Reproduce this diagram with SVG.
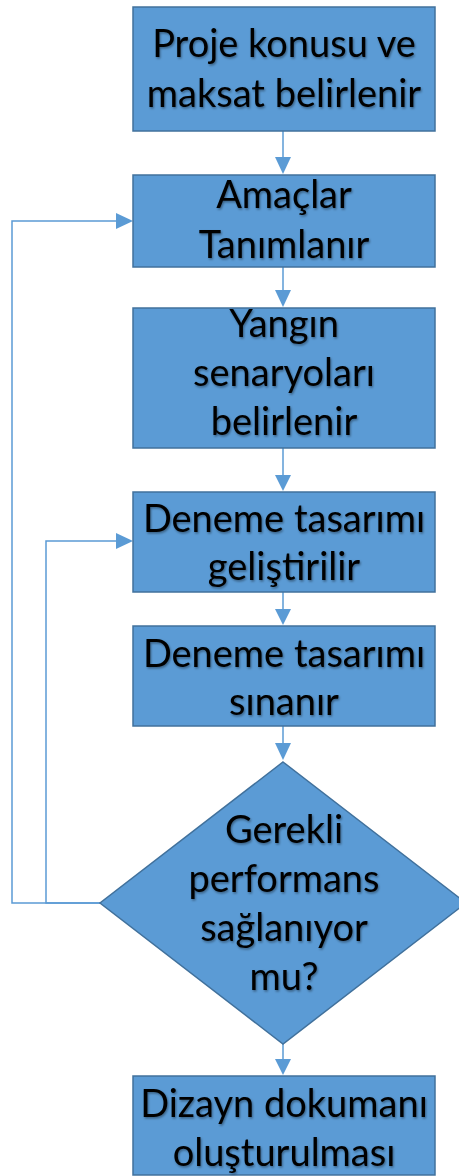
<svg xmlns="http://www.w3.org/2000/svg" width="459" height="1176" viewBox="0 0 459 1176">
<defs>
<style>
.box{fill:#5B9BD5;stroke:#41719C;stroke-width:1.5}
.con{fill:none;stroke:#5B9BD5;stroke-width:1.5}
.t{font-family:Lato,"Liberation Sans",sans-serif;font-size:38px;fill:#000;text-anchor:middle;filter:url(#sh)}
</style>
<filter id="sh" x="-10%" y="-20%" width="120%" height="140%">
<feDropShadow dx="1" dy="1.5" stdDeviation="1" flood-color="#000" flood-opacity="0.4"/>
</filter>
</defs>
<g id="connectors">
<path class="con" d="M283,131 V167"/>
<polygon points="275,157 291,157 283,174" fill="#5B9BD5"/>
<path class="con" d="M283,267 V298"/>
<polygon points="275,290 291,290 283,307" fill="#5B9BD5"/>
<path class="con" d="M283,448 V484"/>
<polygon points="275,475 291,475 283,491" fill="#5B9BD5"/>
<path class="con" d="M283,592 V617"/>
<polygon points="275,609 291,609 283,625" fill="#5B9BD5"/>
<path class="con" d="M283,726 V752"/>
<polygon points="275,743 291,743 283,760" fill="#5B9BD5"/>
<path class="con" d="M283,1044 V1068"/>
<polygon points="275,1059 291,1059 283,1075" fill="#5B9BD5"/>
<path class="con" d="M100,903 H12 V221 H126"/>
<polygon points="116,213 116,229 133,221" fill="#5B9BD5"/>
<path class="con" d="M100,903 H46 V541 H126"/>
<polygon points="116,533 116,549 133,541" fill="#5B9BD5"/>
</g>
<g id="n1"><rect class="box" x="133" y="7" width="302" height="124"/>
<text class="t" x="284" y="57">Proje konusu ve</text><text class="t" x="284" y="107">maksat belirlenir</text></g>
<g id="n2"><rect class="box" x="133" y="175" width="302" height="92"/>
<text class="t" x="284" y="208">Amaçlar</text><text class="t" x="284" y="258">Tanımlanır</text></g>
<g id="n3"><rect class="box" x="133" y="308" width="302" height="140"/>
<text class="t" x="284" y="337">Yangın</text><text class="t" x="284" y="386">senaryoları</text><text class="t" x="284" y="435">belirlenir</text></g>
<g id="n4"><rect class="box" x="133" y="492" width="302" height="100"/>
<text class="t" x="284" y="532">Deneme tasarımı</text><text class="t" x="284" y="580">geliştirilir</text></g>
<g id="n5"><rect class="box" x="133" y="626" width="302" height="100"/>
<text class="t" x="284" y="667">Deneme tasarımı</text><text class="t" x="284" y="715">sınanır</text></g>
<g id="n6"><polygon class="box" points="283,762 466,903 283,1044 100,903"/>
<text class="t" x="284" y="843">Gerekli</text><text class="t" x="284" y="892">performans</text><text class="t" x="284" y="941">sağlanıyor</text><text class="t" x="284" y="990">mu?</text></g>
<g id="n7"><rect class="box" x="133" y="1076" width="302" height="99"/>
<text class="t" x="284" y="1117">Dizayn dokumanı</text><text class="t" x="284" y="1166">oluşturulması</text></g>
</svg>
